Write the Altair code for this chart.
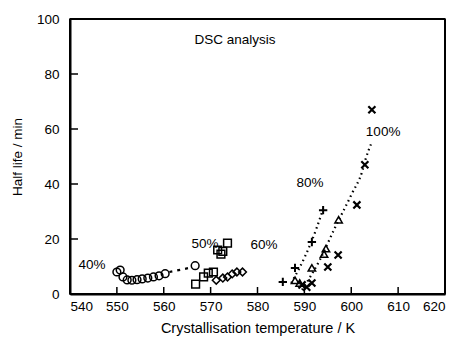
import altair as alt
import pandas as pd

# --- data ---
c40_x = [550.0, 550.7, 551.3, 552.2, 553.2, 554.3, 555.4, 556.6, 557.8, 559.0, 560.3, 566.7]
c40_y = [8.0, 8.7, 6.2, 5.1, 5.0, 5.2, 5.5, 5.8, 6.2, 6.6, 7.4, 10.3]

s50_x = [566.8, 568.5, 569.5, 570.6, 571.5, 572.2, 572.6, 573.6]
s50_y = [3.6, 6.2, 7.6, 8.0, 16.0, 14.5, 15.5, 18.5]

d60_x = [571.2, 572.6, 573.6, 574.6, 575.6, 576.8]
d60_y = [5.0, 5.8, 6.2, 7.3, 8.0, 8.0]

p80_x = [585.4, 588.0, 591.6, 594.0]
p80_y = [4.4, 9.5, 18.9, 30.5]

t90_x = [588.0, 589.0, 591.6, 594.2, 594.6, 597.3]
t90_y = [5.0, 4.0, 9.5, 14.5, 16.5, 27.0]

x100_x = [589.5, 590.5, 591.6, 595.0, 597.2, 601.2, 602.9, 604.4]
x100_y = [3.3, 2.5, 4.0, 9.8, 14.2, 32.4, 47.0, 67.0]

tr40_x = [561.2, 565.8]
tr40_y = [8.0, 9.6]
tr80_x = [587.2, 590.1, 592.7, 594.0]
tr80_y = [4.0, 13.5, 24.4, 31.0]
tr100_x = [589.5, 593.3, 596.5, 600.2, 602.3, 603.0, 604.4]
tr100_y = [1.5, 12.4, 24.0, 36.7, 44.4, 48.7, 55.3]

label_text = ["DSC analysis", "40%", "50%", "60%", "80%", "100%"]
label_x = [575.2, 544.7, 568.8, 581.4, 591.2, 606.8]
label_y = [92.4, 10.5, 18.2, 17.8, 40.4, 58.9]

x_ticks = [540, 550, 560, 570, 580, 590, 600, 610, 620]
y_ticks = [0, 20, 40, 60, 80, 100]

FONT = "Liberation Sans"
W, H = 375, 275
X0, X1, Y0, Y1 = 540, 620, 0, 100

xs = alt.Scale(domain=[X0, X1], nice=False, zero=False)
ys = alt.Scale(domain=[Y0, Y1], nice=False, zero=True)

xax = alt.Axis(values=x_ticks, ticks=False, grid=False, domain=True, domainWidth=2,
               domainColor="black", labelPadding=5,
               title="Crystallisation temperature / K", titlePadding=9,
               labelFontSize=13.5, titleFontSize=14.5,
               labelColor="black", titleColor="black", titleFontWeight="normal",
               labelFont=FONT, titleFont=FONT)
yax = alt.Axis(values=y_ticks, ticks=False, grid=False, domain=True, domainWidth=2,
               domainColor="black", labelPadding=11,
               title="Half life / min", titlePadding=12,
               labelFontSize=13.5, titleFontSize=13.5,
               labelColor="black", titleColor="black", titleFontWeight="normal",
               labelFont=FONT, titleFont=FONT)


def enc(ch):
    return ch.encode(x=alt.X("x:Q", scale=xs, axis=xax),
                     y=alt.Y("y:Q", scale=ys, axis=yax))


def pts(xv, yv, shape, size=60, sw=1.5):
    df = pd.DataFrame({"x": xv, "y": yv})
    return enc(alt.Chart(df).mark_point(shape=shape, filled=False, size=size,
                                        color="black", strokeWidth=sw, opacity=1))


def trend(xv, yv, dash):
    df = pd.DataFrame({"x": xv, "y": yv})
    return enc(alt.Chart(df).mark_line(color="black", strokeWidth=2.2, strokeDash=dash,
                                       interpolate="monotone"))


plus = "M-1,0L1,0M0,-1L0,1"
cross = "M-1,-1L1,1M-1,1L1,-1"

# frame edges as thin filled rectangles
hx = alt.Chart(pd.DataFrame({"a": [X0], "b": [X1]}))
top_edge = hx.mark_rect(color="black", opacity=1).encode(
    x=alt.X("a:Q", scale=xs, axis=xax), x2="b:Q", y=alt.value(-1), y2=alt.value(1))
bot_edge = hx.mark_rect(color="black", opacity=1).encode(
    x=alt.X("a:Q", scale=xs, axis=xax), x2="b:Q", y=alt.value(H - 1), y2=alt.value(H + 1))
vy = alt.Chart(pd.DataFrame({"a": [Y0], "b": [Y1]}))
left_edge = vy.mark_rect(color="black", opacity=1).encode(
    y=alt.Y("a:Q", scale=ys, axis=yax), y2="b:Q", x=alt.value(-1), x2=alt.value(1))
right_edge = vy.mark_rect(color="black", opacity=1).encode(
    y=alt.Y("a:Q", scale=ys, axis=yax), y2="b:Q", x=alt.value(W - 1), x2=alt.value(W + 1))

# inward ticks as thin filled rectangles
xt_df = pd.DataFrame({"v": x_ticks[1:-1]})
xt = alt.Chart(xt_df).mark_rect(color="black", opacity=1, width=1.5).encode(
    x=alt.X("v:Q", scale=xs, axis=xax), y=alt.value(H - 7), y2=alt.value(H))
yt_df = pd.DataFrame({"v": y_ticks[1:-1]})
yt = alt.Chart(yt_df).mark_rect(color="black", opacity=1, height=1.5).encode(
    y=alt.Y("v:Q", scale=ys, axis=yax), x=alt.value(0), x2=alt.value(8))

layers = [
    top_edge, bot_edge, left_edge, right_edge, xt, yt,
    trend(tr40_x, tr40_y, [3, 5]),
    trend(tr80_x, tr80_y, [1.5, 3.5]),
    trend(tr100_x, tr100_y, [1.5, 3.5]),
    pts(c40_x, c40_y, "circle"),
    pts(s50_x, s50_y, "square"),
    pts(d60_x, d60_y, "diamond"),
    pts(p80_x, p80_y, plus, size=70, sw=2.0),
    pts(t90_x, t90_y, "triangle-up", size=55),
    pts(x100_x, x100_y, cross, size=50, sw=2.2),
]

lab = pd.DataFrame({"t": label_text, "x": label_x, "y": label_y})
texts = alt.Chart(lab).mark_text(font=FONT, fontSize=13.5, color="black",
                                 align="center", baseline="middle").encode(
    x=alt.X("x:Q", scale=xs, axis=xax), y=alt.Y("y:Q", scale=ys, axis=yax), text="t:N")

chart = alt.layer(*layers, texts).properties(
    width=W, height=H,
    autosize=alt.AutoSizeParams(type="none"),
    padding={"left": 62, "top": 11, "right": 8, "bottom": 42},
).configure_view(stroke="black", strokeWidth=1.5)

chart.save("out.html", embed_options={"renderer": "svg", "actions": False})
